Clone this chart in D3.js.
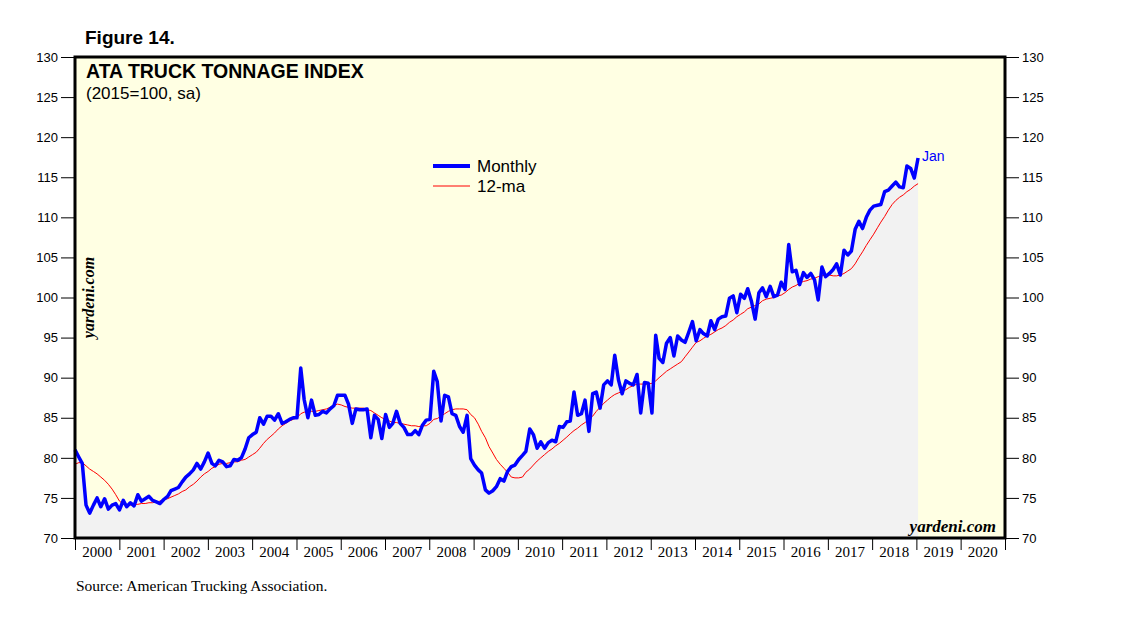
<!DOCTYPE html>
<html>
<head>
<meta charset="utf-8">
<script src="https://cdn.jsdelivr.net/npm/d3@7"></script>
<style>
  body { margin: 0; background: #fff; }
  .sans { font-family: "Liberation Sans", Arial, sans-serif; }
  .serif { font-family: "Liberation Serif", "Times New Roman", serif; }
  .axis text { font-family: "Liberation Sans", Arial, sans-serif; font-size: 13px; fill: #000; }
  .axis line { stroke: #000; stroke-width: 1; }
</style>
</head>
<body>
<div id="chart"></div>
<script>
// ATA truck tonnage index, monthly, Jan 2000 .. Jan 2019 (2015=100, sa)
const startMonth = new Date(2000, 0, 1);

const monthly = [
  81.0, 80.1, 79.3, 74.1, 73.1, 74.1, 75.0, 73.9, 74.9, 73.6, 74.1, 74.3,   // 2000
  73.5, 74.7, 73.9, 74.4, 74.0, 75.4, 74.6, 74.9, 75.2, 74.7, 74.5, 74.3,   // 2001
  74.8, 75.2, 75.9, 76.1, 76.3, 77.0, 77.6, 78.0, 78.5, 79.3, 78.6, 79.5,   // 2002
  80.6, 79.3, 79.0, 79.7, 79.5, 78.9, 79.0, 79.8, 79.7, 80.0, 81.1, 82.5,   // 2003
  82.9, 83.2, 85.0, 84.2, 85.2, 85.2, 84.7, 85.5, 84.3, 84.5, 84.8, 85.0,   // 2004
  85.0, 91.2, 87.3, 85.0, 87.2, 85.3, 85.4, 85.8, 85.6, 86.1, 86.5, 87.8,   // 2005
  87.8, 87.8, 86.7, 84.3, 86.1, 86.0, 86.0, 86.1, 82.5, 85.3, 84.8, 82.4,   // 2006
  85.4, 83.8, 84.3, 85.8, 84.3, 83.8, 82.9, 82.9, 83.4, 82.9, 84.1, 84.7,   // 2007
  84.8, 90.8, 89.5, 84.6, 87.8, 87.6, 85.5, 85.3, 83.9, 83.2, 85.3, 79.9,   // 2008
  79.1, 78.5, 78.1, 76.0, 75.6, 75.9, 76.4, 77.4, 77.1, 78.3, 78.9, 79.1,   // 2009
  79.8, 80.3, 80.8, 83.6, 82.9, 81.2, 82.0, 81.2, 81.9, 82.2, 82.0, 83.9,   // 2010
  83.8, 84.5, 84.6, 88.2, 85.3, 85.5, 87.2, 83.3, 88.0, 88.2, 86.2, 89.1,   // 2011
  89.6, 89.1, 92.8, 89.7, 88.0, 89.6, 89.3, 89.1, 90.4, 85.6, 89.4, 89.3,   // 2012
  85.6, 95.3, 92.4, 91.9, 94.3, 95.0, 92.7, 95.2, 94.7, 94.4, 95.7, 97.0,   // 2013
  94.6, 96.0, 95.5, 95.2, 97.1, 96.0, 97.3, 97.6, 97.7, 99.9, 100.2, 98.1,  // 2014
  100.4, 99.9, 101.1, 99.5, 97.3, 100.6, 101.2, 100.1, 101.4, 100.1, 100.3, 101.9, // 2015
  101.0, 106.6, 103.2, 103.4, 101.6, 103.1, 102.5, 103.0, 102.2, 99.7, 103.8, 102.6, // 2016
  103.0, 103.5, 104.2, 102.8, 105.9, 105.3, 105.8, 108.5, 109.5, 108.6, 110.0, 110.9, // 2017
  111.4, 111.5, 111.6, 113.2, 113.4, 113.9, 114.4, 113.8, 113.7, 116.4, 116.1, 114.9, // 2018
  117.4                                                                        // Jan 2019
];

const ma12 = [
  79.2, 79.4, 79.4, 79.0, 78.6, 78.3, 78.0, 77.6, 77.2, 76.7, 76.1, 75.4,
  74.6, 74.2, 74.1, 74.1, 74.2, 74.2, 74.3, 74.3, 74.4, 74.4, 74.5, 74.6,
  74.8, 74.9, 75.1, 75.3, 75.5, 75.8, 76.0, 76.4, 76.7, 77.1, 77.6, 78.0,
  78.3, 78.7, 78.9, 79.2, 79.3, 79.3, 79.4, 79.5, 79.5, 79.7, 79.8, 80.1,
  80.4, 80.7, 81.2, 81.8, 82.3, 82.7, 83.1, 83.6, 84.0, 84.3, 84.6, 84.8,
  85.0, 85.5, 85.7, 85.7, 85.8, 85.8, 85.9, 86.0, 86.1, 86.3, 86.5, 86.7,
  86.6, 86.4, 86.3, 86.2, 86.2, 86.2, 86.2, 86.0, 85.9, 85.6, 85.3, 85.0,
  84.8, 84.6, 84.4, 84.4, 84.3, 84.2, 84.1, 84.0, 84.0, 83.9, 84.0, 84.0,
  84.3, 84.8, 84.9, 85.2, 85.5, 85.8, 86.0, 86.1, 86.1, 86.1, 86.0, 85.4,
  85.0, 84.2, 83.3, 82.5, 81.4, 80.6, 79.8, 79.2, 78.7, 78.2, 77.6, 77.5,
  77.5, 77.6, 78.2, 78.6, 79.1, 79.6, 80.0, 80.4, 80.8, 81.1, 81.5, 81.8,
  82.2, 82.6, 83.0, 83.4, 83.7, 84.1, 84.4, 84.8, 85.2, 85.8, 86.3, 86.8,
  87.2, 87.6, 87.9, 88.1, 88.3, 88.5, 88.8, 89.0, 89.2, 89.2, 89.2, 89.2,
  89.3, 89.6, 90.0, 90.4, 90.8, 91.1, 91.4, 91.7, 92.0, 92.6, 93.2, 93.8,
  94.4, 94.6, 94.9, 95.2, 95.4, 95.7, 96.0, 96.2, 96.5, 96.9, 97.2, 97.6,
  97.9, 98.2, 98.6, 98.8, 99.0, 99.2, 99.6, 99.8, 99.9, 100.0, 100.2, 100.3,
  100.6, 101.0, 101.3, 101.5, 101.8, 102.0, 102.1, 102.3, 102.4, 102.6, 102.7, 102.8,
  102.8, 102.7, 102.7, 102.8, 103.0, 103.3, 103.6, 104.2, 105.0, 105.7, 106.5, 107.2,
  107.9, 108.7, 109.4, 110.1, 110.9, 111.6, 112.1, 112.5, 112.8, 113.2, 113.5, 113.9,
  114.2
];

const yTicks = [70, 75, 80, 85, 90, 95, 100, 105, 110, 115, 120, 125, 130];
const yearLabels = d3.range(2000, 2021);

const width = 1138, height = 621;
const margin = {top: 57, right: 133, bottom: 83, left: 75};
const x0 = margin.left, x1 = width - margin.right;
const y0 = margin.top, y1 = height - margin.bottom;

const svg = d3.select("#chart")
  .append("svg")
  .attr("width", width)
  .attr("height", height);

const x = d3.scaleTime()
  .domain([new Date(2000, 0, 1), new Date(2021, 0, 1)])
  .range([x0, x1]);

const y = d3.scaleLinear()
  .domain([70, 130])
  .range([y1, y0]);

// points sit a few days into each month, as in the source chart
const rows = monthly.map((v, i) => ({
  date: d3.timeDay.offset(d3.timeMonth.offset(startMonth, i), Math.round(i / 228 * 14)),
  value: v,
  ma: ma12[i]
}));

// plot background
svg.append("rect")
  .attr("x", x0).attr("y", y0)
  .attr("width", x1 - x0).attr("height", y1 - y0)
  .attr("fill", "#ffffe3");

// gray area under monthly series
const area = d3.area()
  .x(d => x(d.date))
  .y0(y(70))
  .y1(d => y(d.value));

svg.append("path")
  .datum(rows)
  .attr("d", area)
  .attr("fill", "#f2f2f2");

// 12-month average
svg.append("path")
  .datum(rows)
  .attr("fill", "none")
  .attr("stroke", "#ff0000")
  .attr("stroke-width", 1)
  .attr("d", d3.line().x(d => x(d.date)).y(d => y(d.ma)));

// monthly
svg.append("path")
  .datum(rows)
  .attr("fill", "none")
  .attr("stroke", "#0000ff")
  .attr("stroke-width", 3.5)
  .attr("stroke-linejoin", "round")
  .attr("d", d3.line().x(d => x(d.date)).y(d => y(d.value)));

// Y axes
svg.append("g")
  .attr("class", "axis")
  .attr("transform", `translate(${x0},0)`)
  .call(d3.axisLeft(y).tickValues(yTicks).tickSize(14).tickPadding(3))
  .call(g => g.select(".domain").remove());

svg.append("g")
  .attr("class", "axis")
  .attr("transform", `translate(${x1},0)`)
  .call(d3.axisRight(y).tickValues(yTicks).tickSize(14).tickPadding(3))
  .call(g => g.select(".domain").remove());

// X axis: year boundaries as ticks, labels centred in each year
svg.append("g")
  .attr("class", "axis")
  .attr("transform", `translate(0,${y1})`)
  .call(d3.axisBottom(x).ticks(d3.timeYear.every(1)).tickSize(12).tickFormat(""))
  .call(g => g.select(".domain").remove())
  .call(g => g.selectAll("line").attr("stroke-width", 2.5));

svg.append("g")
  .selectAll("text")
  .data(yearLabels)
  .enter().append("text")
  .attr("class", "serif")
  .attr("x", d => (x(new Date(d, 0, 1)) + x(new Date(d + 1, 0, 1))) / 2)
  .attr("y", y1 + 19)
  .attr("text-anchor", "middle")
  .attr("font-size", 15)
  .text(d => d);

// frame
svg.append("rect")
  .attr("x", x0).attr("y", y0)
  .attr("width", x1 - x0).attr("height", y1 - y0)
  .attr("fill", "none")
  .attr("stroke", "#000")
  .attr("stroke-width", 3);

// titles
svg.append("text").attr("class", "sans")
  .attr("x", 85).attr("y", 44)
  .attr("font-size", 19).attr("font-weight", "bold")
  .text("Figure 14.");

svg.append("text").attr("class", "sans")
  .attr("x", 86).attr("y", 78)
  .attr("font-size", 19.5).attr("font-weight", "bold")
  .text("ATA TRUCK TONNAGE INDEX");

svg.append("text").attr("class", "sans")
  .attr("x", 86).attr("y", 99)
  .attr("font-size", 17)
  .text("(2015=100, sa)");

// legend
const legend = svg.append("g").attr("class", "sans");
legend.append("line")
  .attr("x1", 433).attr("x2", 470).attr("y1", 166).attr("y2", 166)
  .attr("stroke", "#0000ff").attr("stroke-width", 4);
legend.append("text")
  .attr("x", 477).attr("y", 172).attr("font-size", 17)
  .text("Monthly");
legend.append("line")
  .attr("x1", 433).attr("x2", 470).attr("y1", 186).attr("y2", 186)
  .attr("stroke", "#ff0000").attr("stroke-width", 1);
legend.append("text")
  .attr("x", 477).attr("y", 192).attr("font-size", 17)
  .text("12-ma");

// last value label
const last = rows[rows.length - 1];
svg.append("text").attr("class", "sans")
  .attr("x", x(last.date) + 4)
  .attr("y", y(last.value) + 3)
  .attr("font-size", 14)
  .attr("fill", "#0000ff")
  .text("Jan");

// watermarks
svg.append("text").attr("class", "serif")
  .attr("transform", `translate(94,${(y0 + y1) / 2}) rotate(-90)`)
  .attr("text-anchor", "middle")
  .attr("font-size", 16).attr("font-weight", "bold").attr("font-style", "italic")
  .text("yardeni.com");

svg.append("text").attr("class", "serif")
  .attr("x", x1 - 9).attr("y", y1 - 6)
  .attr("text-anchor", "end")
  .attr("font-size", 17).attr("font-weight", "bold").attr("font-style", "italic")
  .text("yardeni.com");

// source
svg.append("text").attr("class", "serif")
  .attr("x", 76).attr("y", 591)
  .attr("font-size", 15.5)
  .text("Source: American Trucking Association.");
</script>
</body>
</html>
